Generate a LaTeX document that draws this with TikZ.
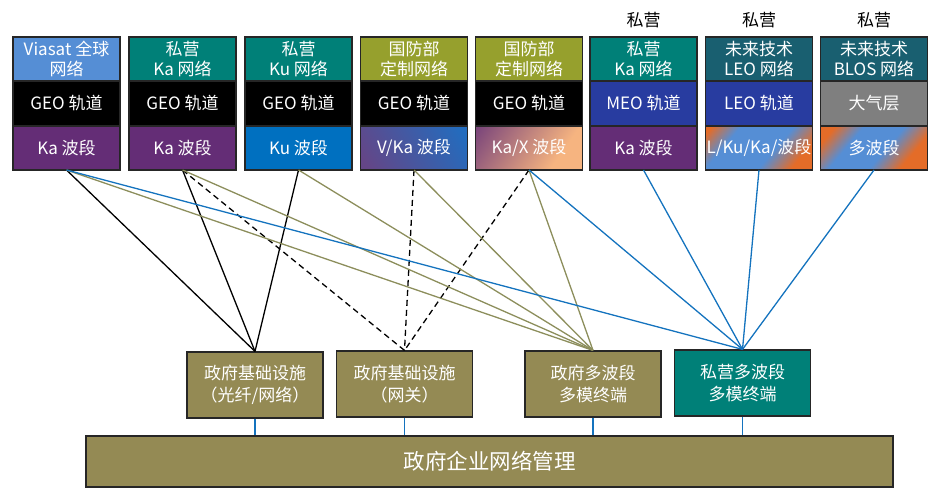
\documentclass[tikz,border=0pt]{standalone}
\usepackage{fontspec}
\setmainfont{Noto Sans CJK SC}
\usetikzlibrary{positioning}

\definecolor{viasatblue}{RGB}{85,142,213}
\definecolor{privteal}{RGB}{0,128,120}
\definecolor{dodolive}{RGB}{150,160,45}
\definecolor{futteal}{RGB}{25,95,112}
\definecolor{midblue}{RGB}{40,60,160}
\definecolor{airgrey}{RGB}{127,127,127}
\definecolor{kapurple}{RGB}{100,45,118}
\definecolor{kublue}{RGB}{0,112,192}
\definecolor{groundolive}{RGB}{148,138,84}
\definecolor{lineolive}{RGB}{140,142,92}
\definecolor{lineblue}{RGB}{20,115,190}
\definecolor{vkaleft}{RGB}{100,70,135}
\definecolor{vkaright}{RGB}{35,108,190}
\definecolor{kxmauve}{RGB}{112,60,122}
\definecolor{kxpeach}{RGB}{246,180,128}
\definecolor{bandorange}{RGB}{228,108,40}

\pgfdeclarehorizontalshading{vkashade}{100bp}{color(0bp)=(vkaleft); color(20bp)=(vkaleft); color(80bp)=(vkaright); color(100bp)=(vkaright)}
\pgfdeclarehorizontalshading{kaxshade}{100bp}{color(0bp)=(kxmauve); color(12bp)=(kxmauve); color(68bp)=(kxpeach); color(100bp)=(kxpeach)}
\pgfdeclarehorizontalshading{lkkshade}{100bp}{color(0bp)=(bandorange); color(18bp)=(bandorange); color(32bp)=(viasatblue); color(58bp)=(viasatblue); color(74bp)=(bandorange); color(100bp)=(bandorange)}
\pgfdeclarehorizontalshading{multishade}{100bp}{color(0bp)=(bandorange); color(22bp)=(bandorange); color(36bp)=(viasatblue); color(56bp)=(viasatblue); color(71bp)=(bandorange); color(100bp)=(bandorange)}

\begin{document}
\begin{tikzpicture}
[x=1pt, y=-1pt,
 cell/.style={draw=black!85, line width=1.2pt, outer sep=0pt, inner sep=0pt,
   minimum width=107pt, text=white, align=center, font=\fontsize{17}{20}\selectfont},
 netcell/.style={cell, minimum height=44pt},
 orbcell/.style={cell, minimum height=45pt},
 bandcell/.style={cell, minimum height=44pt},
 owner/.style={inner sep=0pt, font=\fontsize{17}{20}\selectfont},
 ground/.style={draw=black!85, line width=1.2pt, fill=groundolive, text=white, align=center,
   minimum width=136pt, minimum height=66pt, font=\fontsize{17}{22}\selectfont},
 link/.style={line width=1.3pt},
 govlink/.style={link, draw=lineolive},
 privlink/.style={link, draw=lineblue},
 fixlink/.style={link, draw=black},
 gwlink/.style={link, draw=black, dash pattern=on 6pt off 4pt}]
\useasboundingbox (0,0) rectangle (941,502);

% networks
\node [netcell, fill=viasatblue] (net1) at (66.5,59) {Viasat 全球\\网络};
\node [netcell, fill=privteal] (net2) at (182.5,59) {私营\\Ka 网络};
\node [netcell, fill=privteal] (net3) at (298.5,59) {私营\\Ku 网络};
\node [netcell, fill=dodolive] (net4) at (414,59) {国防部\\定制网络};
\node [netcell, fill=dodolive] (net5) at (529,59) {国防部\\定制网络};
\node [netcell, fill=privteal] (net6) at (643.5,59) {私营\\Ka 网络};
\node [netcell, fill=futteal] (net7) at (759,59) {未来技术\\LEO 网络};
\node [netcell, fill=futteal] (net8) at (874,59) {未来技术\\BLOS 网络};

% orbits
\foreach \i in {1,...,5}{
	\node [orbcell, fill=black, below=0pt of net\i] (orb\i) {GEO 轨道};
}
\node [orbcell, fill=midblue, below=0pt of net6] (orb6) {MEO 轨道};
\node [orbcell, fill=midblue, below=0pt of net7] (orb7) {LEO 轨道};
\node [orbcell, fill=airgrey, below=0pt of net8] (orb8) {大气层};

% bands
\node [bandcell, fill=kapurple, below=0pt of orb1] (band1) {Ka 波段};
\node [bandcell, fill=kapurple, below=0pt of orb2] (band2) {Ka 波段};
\node [bandcell, fill=kublue, below=0pt of orb3] (band3) {Ku 波段};
\node [bandcell, shade, shading=vkashade, shading angle=30, below=0pt of orb4] (band4) {V/Ka 波段};
\node [bandcell, shade, shading=kaxshade, shading angle=-35, below=0pt of orb5] (band5) {Ka/X 波段};
\node [bandcell, fill=kapurple, below=0pt of orb6] (band6) {Ka 波段};
\node [bandcell, shade, shading=lkkshade, shading angle=-40, below=0pt of orb7] (band7) {L/Ku/Ka/波段};
\node [bandcell, shade, shading=multishade, shading angle=-40, below=0pt of orb8] (band8) {多波段};

\foreach \i in {6,7,8}{
	\node [owner, above=9pt of net\i] (own\i) {私营};
}

% ground side
\node [ground] (infra) at (255,385) {政府基础设施\\（光纤/网络）};
\node [ground] (gateway) at (404.5,384) {政府基础设施\\（网关）};
\node [ground] (govterm) at (593,384) {政府多波段\\多模终端};
\node [ground, fill=privteal] (privterm) at (742.5,383) {私营多波段\\多模终端};
\node [ground, minimum width=807pt, minimum height=51pt, font=\fontsize{21.5}{24}\selectfont] (mgmt) at (489.5,461.5) {政府企业网络管理};

\draw [fixlink] (band1.south) -- (infra.north);
\draw [fixlink] (band2.south) -- (infra.north);
\draw [fixlink] (band3.south) -- (infra.north);
\draw [gwlink] (band2.south) -- (gateway.north);
\draw [gwlink] (band4.south) -- (gateway.north);
\draw [gwlink] (band5.south) -- (gateway.north);
\foreach \i in {1,...,5}{
	\draw [govlink] (band\i.south) -- (govterm.north);
}
\draw [privlink] (band1.south) -- (privterm.north);
\foreach \i in {5,...,8}{
	\draw [privlink] (band\i.south) -- (privterm.north);
}
\foreach \n in {infra,gateway,govterm,privterm}{
	\draw [privlink] (\n.south) -- (\n.south |- mgmt.north);
}
\end{tikzpicture}
\end{document}
